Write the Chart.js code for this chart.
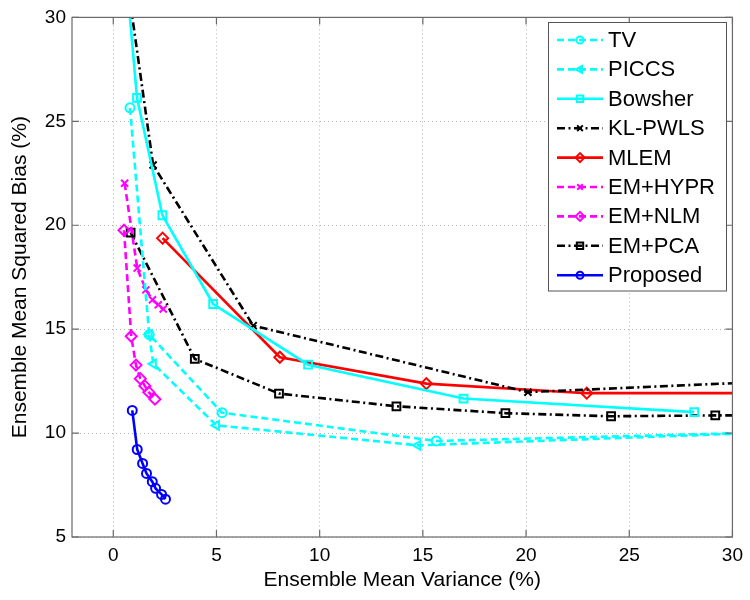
<!DOCTYPE html>
<html>
<head>
<meta charset="utf-8">
<script src="https://cdn.jsdelivr.net/npm/chart.js@4"></script>
<style>
  html, body { margin: 0; padding: 0; background: #fff; }
  #wrap { width: 750px; height: 600px; }
</style>
</head>
<body>
<div id="wrap"><canvas id="c" width="750" height="600"></canvas></div>
<script>
// variance (%) / squared bias (%) per method, one entry per iteration
var tvX = [0.81, 1.74, 5.27, 15.65, 30.5];
var tvY = [25.65, 14.74, 10.98, 9.62, 10.0];
var piccsX = [1.74, 1.94, 5.0, 14.76, 30.5];
var piccsY = [14.74, 13.33, 10.37, 9.41, 9.98];
var bowsherX = [0.63, 1.15, 2.38, 4.84, 9.44, 16.97, 28.15];
var bowsherY = [32.0, 26.13, 20.48, 16.21, 13.29, 11.66, 11.01];
var klX = [0.5, 1.93, 6.78, 20.09, 30.5];
var klY = [33.0, 22.9, 15.17, 11.97, 12.42];
var mlemX = [2.39, 8.07, 15.17, 22.94, 30.5];
var mlemY = [19.38, 13.65, 12.38, 11.92, 11.92];
var hyprX = [0.55, 1.16, 1.58, 1.9, 2.18, 2.42];
var hyprY = [22.02, 17.94, 16.89, 16.41, 16.17, 15.97];
var nlmX = [0.52, 0.87, 1.1, 1.31, 1.53, 1.72, 2.02];
var nlmY = [19.76, 14.66, 13.27, 12.62, 12.27, 11.97, 11.63];
var pcaX = [0.84, 3.95, 8.03, 13.72, 19.0, 24.12, 29.17, 31.0];
var pcaY = [19.65, 13.57, 11.9, 11.29, 10.96, 10.81, 10.85, 10.85];
var propX = [0.92, 1.16, 1.42, 1.61, 1.89, 2.05, 2.34, 2.53];
var propY = [11.09, 9.21, 8.54, 8.06, 7.66, 7.34, 7.05, 6.82];

var xTicks = [0, 5, 10, 15, 20, 25, 30];
var yTicks = [5, 10, 15, 20, 25, 30];

var FONT = '"Liberation Sans", Arial, Helvetica, sans-serif';
var DASH = [7, 4];
var DASHDOT = [8, 3.5, 2, 3.5];

// marker radius per point style so that squares/diamonds come out about 8px wide
var MARKER_R = { circle: 4.5, rect: 5.5, rectRot: 5.5, crossRot: 5, triangle: 5 };

function pts(xs, ys) {
  return xs.map(function(x, i) { return {x: x, y: ys[i]}; });
}

function series(label, xs, ys, color, dash, style, rot) {
  return {
    label: label,
    data: pts(xs, ys),
    showLine: true,
    borderColor: color,
    backgroundColor: 'rgba(0,0,0,0)',
    borderWidth: 2.6,
    borderDash: dash,
    pointStyle: style,
    pointRotation: rot || 0,
    pointRadius: MARKER_R[style],
    pointHoverRadius: MARKER_R[style],
    pointBorderWidth: 2,
    pointBorderColor: color,
    pointBackgroundColor: 'rgba(0,0,0,0)',
    tension: 0
  };
}

var datasets = [
  series('TV', tvX, tvY, '#00ffff', DASH, 'circle'),
  series('PICCS', piccsX, piccsY, '#00ffff', DASH, 'triangle', -90),
  series('Bowsher', bowsherX, bowsherY, '#00ffff', [], 'rect'),
  series('KL-PWLS', klX, klY, '#000000', DASHDOT, 'crossRot'),
  series('MLEM', mlemX, mlemY, '#ff0000', [], 'rectRot'),
  series('EM+HYPR', hyprX, hyprY, '#ff00ff', DASH, 'crossRot'),
  series('EM+NLM', nlmX, nlmY, '#ff00ff', DASH, 'rectRot'),
  series('EM+PCA', pcaX, pcaY, '#000000', DASHDOT, 'rect'),
  series('Proposed', propX, propY, '#0000ff', [], 'circle')
];

// axes box with inward tick marks, drawn over the curves
var boxPlugin = {
  id: 'box',
  afterDatasetsDraw: function(chart) {
    var ctx = chart.ctx, a = chart.chartArea;
    var xs = chart.scales.x, ys = chart.scales.y;
    ctx.save();
    ctx.strokeStyle = '#6a6a6a';
    ctx.lineWidth = 1.2;
    ctx.setLineDash([]);
    ctx.strokeRect(a.left, a.top, a.right - a.left, a.bottom - a.top);
    ctx.beginPath();
    xTicks.forEach(function(v) {
      var px = xs.getPixelForValue(v);
      ctx.moveTo(px, a.bottom); ctx.lineTo(px, a.bottom - 7);
      ctx.moveTo(px, a.top); ctx.lineTo(px, a.top + 7);
    });
    yTicks.forEach(function(v) {
      var py = ys.getPixelForValue(v);
      ctx.moveTo(a.left, py); ctx.lineTo(a.left + 7, py);
      ctx.moveTo(a.right, py); ctx.lineTo(a.right - 7, py);
    });
    ctx.stroke();
    ctx.restore();
  }
};

// matlab style legend: line sample with marker in the middle
var legendPlugin = {
  id: 'matLegend',
  afterDraw: function(chart) {
    var ctx = chart.ctx;
    var bx = 548.5, by = 22.5, bw = 178, bh = 268.5;
    ctx.save();
    ctx.fillStyle = '#fff';
    ctx.fillRect(bx, by, bw, bh);
    ctx.strokeStyle = '#555';
    ctx.lineWidth = 1;
    ctx.setLineDash([]);
    ctx.strokeRect(bx, by, bw, bh);
    chart.data.datasets.forEach(function(ds, i) {
      var y = 40 + i * 29.4;
      ctx.strokeStyle = ds.borderColor;
      ctx.lineWidth = 2.6;
      ctx.setLineDash(ds.borderDash);
      ctx.beginPath();
      ctx.moveTo(557, y);
      ctx.lineTo(603, y);
      ctx.stroke();
      ctx.setLineDash([]);
      ctx.fillStyle = 'rgba(0,0,0,0)';
      ctx.lineWidth = 2;
      Chart.helpers.drawPoint(ctx, {
        pointStyle: ds.pointStyle,
        rotation: ds.pointRotation,
        radius: ds.pointRadius - 1,
        borderWidth: 2
      }, 580, y);
      ctx.fillStyle = '#000';
      ctx.font = '22px ' + FONT;
      ctx.textAlign = 'left';
      ctx.textBaseline = 'middle';
      ctx.fillText(ds.label, 608, y + 1);
    });
    ctx.restore();
  }
};

new Chart(document.getElementById('c'), {
  type: 'scatter',
  data: { datasets: datasets },
  options: {
    responsive: false,
    animation: false,
    layout: { padding: { top: 16, right: 17, left: 0, bottom: 0 } },
    plugins: { legend: { display: false }, tooltip: { enabled: false } },
    scales: {
      x: {
        type: 'linear',
        min: -2, max: 30,
        afterBuildTicks: function(s) { s.ticks = xTicks.map(function(v) { return {value: v}; }); },
        afterFit: function(s) { s.height = 63; },
        grid: { color: '#b5b5b5', lineWidth: 1, drawTicks: false },
        border: { display: false, dash: [1, 3] },
        ticks: { color: '#000', padding: 7, font: { family: FONT, size: 19 } },
        title: {
          display: true, text: 'Ensemble Mean Variance (%)', color: '#000',
          font: { family: FONT, size: 21 }, padding: { top: 0, bottom: 7 }
        }
      },
      y: {
        type: 'linear',
        min: 5, max: 30,
        afterBuildTicks: function(s) { s.ticks = yTicks.map(function(v) { return {value: v}; }); },
        afterFit: function(s) { s.width = 72; },
        grid: { color: '#b5b5b5', lineWidth: 1, drawTicks: false },
        border: { display: false, dash: [1, 3] },
        ticks: { color: '#000', padding: 6, font: { family: FONT, size: 19 } },
        title: {
          display: true, text: 'Ensemble Mean Squared Bias (%)', color: '#000',
          font: { family: FONT, size: 21 }, padding: { top: 8, bottom: 0 }
        }
      }
    }
  },
  plugins: [boxPlugin, legendPlugin]
});
</script>
</body>
</html>
